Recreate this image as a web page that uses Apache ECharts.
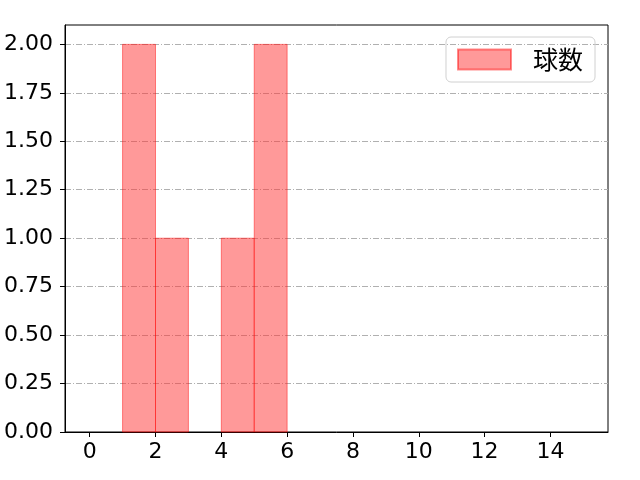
<!DOCTYPE html>
<html><head><meta charset="utf-8">
<script src="https://cdn.jsdelivr.net/npm/echarts@6/dist/echarts.min.js"></script>
<style>html,body{margin:0;padding:0;background:#fff}#c{width:640px;height:480px}</style>
</head><body><div id="c"></div>
<script>
const binStarts = [0,1,2,3,4,5,6,7,8,9,10,11,12,13,14];
const counts    = [0,2,1,0,1,2,0,0,0,0,0,0,0,0,0];
const binWidth = 1;
const xTicks = [0,2,4,6,8,10,12,14];
const yTicks = [0,0.25,0.5,0.75,1,1.25,1.5,1.75,2];
const seriesName = '球数';

const data = binStarts.map((s,i)=>[s, s+binWidth, counts[i]]).filter(d=>d[2]>0);
const numFont = '"DejaVu Sans", sans-serif';
const cjkFont = '"Noto Sans CJK JP", sans-serif';
const chart = echarts.init(document.getElementById('c'));
chart.setOption({
  animation:false,
  textStyle:{fontFamily:numFont},
  grid:{left:65,right:32,top:25,bottom:48,show:true,borderColor:'#000',borderWidth:1,backgroundColor:'transparent'},
  legend:{
    right:45, top:37, orient:'vertical',
    itemWidth:53, itemHeight:20, itemGap:10,
    padding:[10,12,10,11],
    borderColor:'#d0d0d0', borderWidth:1, borderRadius:5,
    textStyle:{fontSize:25,color:'#000',fontFamily:cjkFont,padding:[0,0,0,17]},
    data:[{name:seriesName,icon:'rect'}]
  },
  xAxis:{
    type:'value', min:-0.75, max:15.75,
    axisLine:{show:true,onZero:false,lineStyle:{color:'#000'}},
    axisTick:{show:true,length:5,lineStyle:{color:'#000'},customValues:xTicks},
    axisLabel:{fontSize:22,color:'#000',margin:9,customValues:xTicks,fontFamily:numFont},
    splitLine:{show:false}
  },
  yAxis:{
    type:'value', min:0, max:2.1, interval:0.25,
    axisLine:{show:true,onZero:false,lineStyle:{color:'#000'}},
    axisTick:{show:true,length:5,lineStyle:{color:'#000'},customValues:yTicks},
    axisLabel:{fontSize:22,color:'#000',margin:12,customValues:yTicks,fontFamily:numFont,formatter:v=>v.toFixed(2)},
    splitLine:{show:true,lineStyle:{color:'#b0b0b0',width:1,type:[6,2,1,2]}}
  },
  series:[{
    name:seriesName,
    type:'custom',
    itemStyle:{color:'rgba(255,51,51,0.5)',borderColor:'rgba(255,0,0,0.45)',borderWidth:1},
    encode:{x:[0,1],y:2},
    data:data,
    renderItem:function(params,api){
      const p0 = api.coord([api.value(0), api.value(2)]);
      const p1 = api.coord([api.value(1), 0]);
      return {type:'rect',shape:{x:p0[0],y:p0[1],width:p1[0]-p0[0],height:p1[1]-p0[1]},
        style:{fill:'rgba(255,51,51,0.5)',stroke:'rgba(255,0,0,0.45)',lineWidth:1}};
    }
  }]
});
</script></body></html>
